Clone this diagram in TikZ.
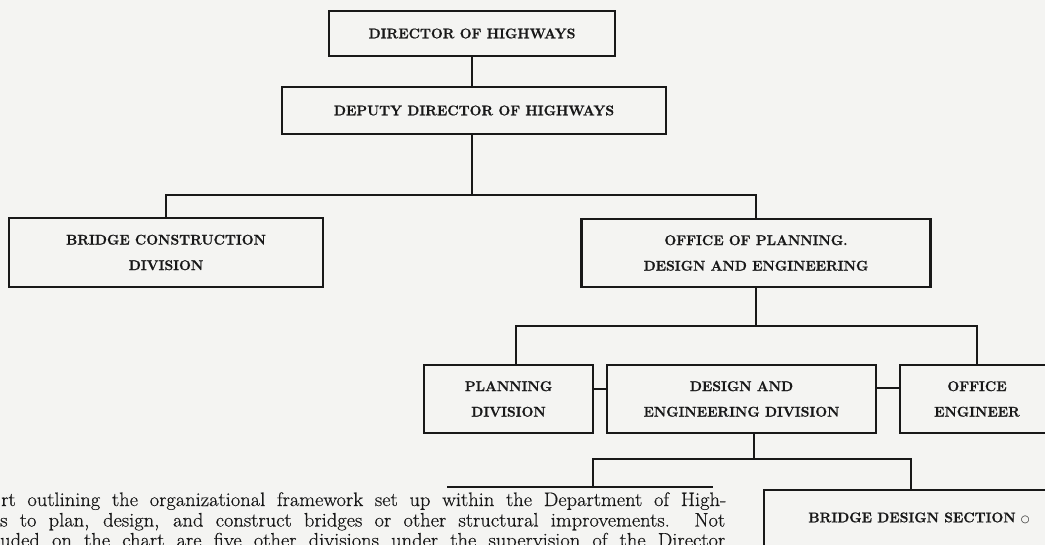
\documentclass[tikz,border=0pt]{standalone}
\usepackage{fontspec}
\usepackage{graphicx}
\newfontfamily\symfont{DejaVu Sans}
\newfontfamily\boxfont{lmroman12-bold.otf}[FakeBold=1]
\newfontfamily\capfont{lmroman17-regular.otf}[FakeBold=0.5]
\definecolor{paper}{RGB}{244,244,242}
\definecolor{ink}{RGB}{24,24,24}
\tikzset{
  orgbox/.style={draw=ink, line width=2.1pt, text=ink, align=center, inner sep=0pt,
    font=\boxfont\fontsize{14}{25.5}\selectfont},
  conn/.style={draw=ink, line width=1.6pt},
  captxt/.style={anchor=base west, inner sep=0pt, text=ink, font=\capfont\fontsize{19.5}{21}\selectfont},
  lbl/.style={text=ink, inner sep=0pt, font=\boxfont\fontsize{14}{25.5}\selectfont}
}
\newcommand{\capline}[1]{\scalebox{1.05}[1]{\makebox[690.5pt][s]{#1}}}
\begin{document}
\begin{tikzpicture}[x=1pt,y=-1pt]
\fill[paper] (0,0) rectangle (1045,545);
\useasboundingbox (0,0) rectangle (1045,545);
\begin{scope}
\clip (0,0) rectangle (1045,545);
% boxes
\node[orgbox, minimum width=286pt, minimum height=45pt] (dir) at (472,33.5) {DIRECTOR OF HIGHWAYS};
\node[orgbox, minimum width=384pt, minimum height=47pt] (dep) at (474,110.5) {DEPUTY DIRECTOR OF HIGHWAYS};
\node[orgbox, minimum width=314pt, minimum height=69pt] (bcd) at (166,252.5) {BRIDGE CONSTRUCTION\\DIVISION};
\node[orgbox, minimum width=349pt, minimum height=68pt] (opde) at (756,253) {OFFICE OF PLANNING.\\DESIGN AND ENGINEERING};
\node[orgbox, minimum width=169pt, minimum height=68pt] (plan) at (508.5,399) {PLANNING\\DIVISION};
\node[orgbox, minimum width=269pt, minimum height=68pt] (des) at (741.5,399) {DESIGN AND\\ENGINEERING DIVISION};
\node[orgbox, minimum width=154pt, minimum height=68pt] (oe) at (977,399) {OFFICE\\ENGINEER};
\node[orgbox, minimum width=294pt, minimum height=70pt] (bds) at (911,525) {};
\node[lbl] (bdsl) at (919,518) {BRIDGE DESIGN SECTION {\symfont\fontsize{10}{10}\selectfont ○}};
% junctions
\coordinate (bus1) at (472,195);
\coordinate (bus2) at (756,326);
\coordinate (b2l) at (516,326);
\coordinate (bus3) at (754,459);
\coordinate (b3l) at (593,459);
\coordinate (hid) at (593,487);
\coordinate (hidl) at (447,487);
\coordinate (hidr) at (713,487);
\coordinate (c389) at (0,389);
\coordinate (c388) at (0,388);
% connectors
\draw[conn] (dir.south) -- (dir.south |- dep.north);
\draw[conn] (bus1 |- dep.south) -- (bus1);
\draw[conn] (bcd.north) |- (bus1) -| (opde.north);
\draw[conn] (opde.south) -- (opde.south |- bus2);
\draw[conn] (b2l |- plan.north) -- (b2l) -| (oe.north);
\draw[conn] (plan.east |- c389) -- (des.west |- c389);
\draw[conn] (des.east |- c388) -- (oe.west |- c388);
\draw[conn, line width=2.3pt] (bus3 |- des.south) -- (bus3);
\draw[conn] (hid) -- (b3l) -| (bds.north);
\draw[conn, line width=1.8pt] (hidl) -- (hidr);
% caption
\node[captxt] (cap1) at (1,506) {\capline{rt outlining the organizational framework set up within the Department of High-}};
\node[captxt] (cap2) at (0,526.5) {\capline{s to plan, design, and construct bridges or other structural improvements.\ \ Not}};
\node[captxt] (cap3) at (0,546.5) {\capline{uded on the chart are five other divisions under the supervision of the Director}};
\end{scope}
\end{tikzpicture}
\end{document}
